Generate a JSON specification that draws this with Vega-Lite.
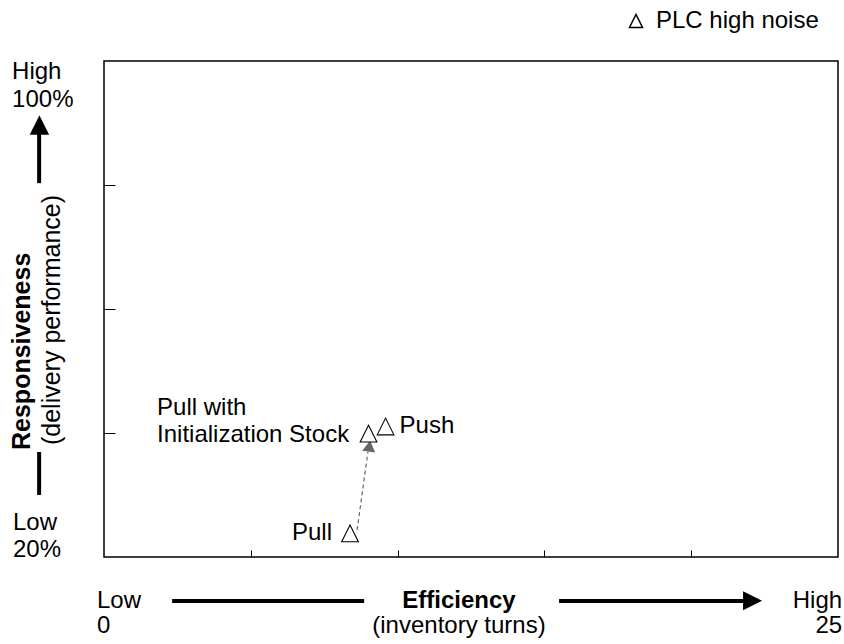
{
  "$schema": "https://vega.github.io/schema/vega-lite/v6.json",
  "width": 734,
  "height": 496,
  "autosize": {"type": "none"},
  "padding": {"left": 104, "top": 61, "right": 6, "bottom": 87},
  "background": "white",
  "config": {
    "font": "Liberation Sans",
    "view": {"stroke": "black", "strokeWidth": 1.5},
    "axis": {"grid": false, "domain": false, "labels": false, "tickColor": "black", "tickWidth": 1},
    "text": {"fontSize": 24, "color": "black", "font": "Liberation Sans"}
  },
  "datasets": {
    "pts": [
      {"x": 8.38, "y": 23.8, "series": "PLC high noise", "label": "Pull"},
      {"x": 9.01, "y": 39.9, "series": "PLC high noise", "label": ["Pull with", "Initialization Stock"]},
      {"x": 9.59, "y": 41.05, "series": "PLC high noise", "label": "Push"}
    ],
    "link": [
      {"x": 8.62, "y": 24.35},
      {"x": 8.99, "y": 36.94}
    ],
    "linkhead": [
      {"x": 9.04, "y": 37.9}
    ],
    "notes": [
      {"text": "Low", "role": "left", "x": -0.24, "y": 11.77},
      {"text": "0", "role": "left", "x": -0.24, "y": 7.74},
      {"text": "High", "role": "left", "x": -3.13, "y": 97.1},
      {"text": "100%", "role": "left", "x": -3.13, "y": 92.58},
      {"text": "Low", "role": "left", "x": -3.1, "y": 24.35},
      {"text": "20%", "role": "left", "x": -3.1, "y": 20.0},
      {"text": "High", "role": "right", "x": 25.14, "y": 11.77},
      {"text": "25", "role": "right", "x": 25.14, "y": 7.74},
      {"text": "(inventory turns)", "role": "center", "x": 12.09, "y": 7.74},
      {"text": "Efficiency", "role": "title", "x": 12.09, "y": 11.77},
      {"text": "Responsiveness", "role": "ytitle", "x": -2.79, "y": 37.26},
      {"text": "(delivery performance)", "role": "ysub", "x": -1.77, "y": 38.06}
    ],
    "arrows": [
      {"x": 2.32, "x2": 8.86, "y": 12.92, "y2": 12.92},
      {"x": 15.5, "x2": 21.9, "y": 12.92, "y2": 12.92},
      {"x": -2.21, "x2": -2.21, "y": 80.3, "y2": 88.5},
      {"x": -2.21, "x2": -2.21, "y": 30.0, "y2": 36.94}
    ],
    "heads": [
      {"x": 22.09, "y": 12.95, "dir": "right"},
      {"x": -2.2, "y": 89.68, "dir": "up"}
    ]
  },
  "encoding": {
    "x": {"field": "x", "type": "quantitative", "title": null,
          "scale": {"domain": [0, 25], "nice": false, "zero": false},
          "axis": {"values": [5, 10, 15, 20], "tickSize": -7, "labels": false, "domain": false, "title": null}},
    "y": {"field": "y", "type": "quantitative", "title": null,
          "scale": {"domain": [20, 100], "nice": false, "zero": false},
          "axis": {"values": [40, 60, 80], "tickSize": -11, "labels": false, "domain": false, "title": null}}
  },
  "layer": [
    {
      "data": {"name": "arrows"},
      "mark": {"type": "rule", "color": "black", "strokeWidth": 4},
      "encoding": {"x2": {"field": "x2"}, "y2": {"field": "y2"}}
    },
    {
      "data": {"name": "heads"},
      "transform": [{"filter": "datum.dir === 'right'"}],
      "mark": {"type": "point", "shape": "M-1,-1L1,0L-1,1Z", "size": 361, "filled": true, "color": "black", "opacity": 1}
    },
    {
      "data": {"name": "heads"},
      "transform": [{"filter": "datum.dir === 'up'"}],
      "mark": {"type": "point", "shape": "M0,-1L-1,1L1,1Z", "size": 380, "filled": true, "color": "black", "opacity": 1}
    },
    {
      "data": {"name": "link"},
      "mark": {"type": "line", "color": "#666666", "strokeWidth": 1.2, "strokeDash": [4, 3]}
    },
    {
      "data": {"name": "linkhead"},
      "mark": {"type": "point", "shape": "triangle-up", "size": 169, "filled": true, "color": "#666666", "opacity": 1, "angle": 8}
    },
    {
      "data": {"name": "pts"},
      "mark": {"type": "point", "filled": true, "fill": "white", "stroke": "black", "strokeWidth": 1.1, "size": 280, "opacity": 1},
      "encoding": {
        "shape": {"field": "series", "type": "nominal",
                  "scale": {"domain": ["PLC high noise"], "range": ["M0,-1L-1,1L1,1Z"]},
                  "legend": {"orient": "none", "legendX": 520, "legendY": -52, "title": null,
                             "labelFontSize": 24, "labelFont": "Liberation Sans", "labelColor": "black",
                             "labelLimit": 400,
                             "symbolSize": 170, "symbolType": "triangle-up",
                             "labelOffset": 8, "padding": 0,
                             "encode": {"symbols": {"update": {
                               "stroke": {"value": "black"},
                               "strokeWidth": {"value": 1},
                               "fill": {"value": "white"},
                               "opacity": {"value": 1}
                             }}}}}
      }
    },
    {
      "data": {"name": "pts"},
      "transform": [{"filter": "datum.label === 'Pull'"}],
      "mark": {"type": "text", "align": "right", "baseline": "middle", "dx": -18},
      "encoding": {"text": {"field": "label", "type": "nominal"}}
    },
    {
      "data": {"name": "pts"},
      "transform": [{"filter": "datum.label === 'Push'"}],
      "mark": {"type": "text", "align": "left", "baseline": "middle", "dx": 14},
      "encoding": {"text": {"field": "label", "type": "nominal"}}
    },
    {
      "data": {"name": "pts"},
      "transform": [{"filter": "isArray(datum.label)"}],
      "mark": {"type": "text", "align": "left", "baseline": "alphabetic", "dx": -211.5, "dy": -18.5, "lineHeight": 27},
      "encoding": {"text": {"field": "label", "type": "nominal"}}
    },
    {
      "data": {"name": "notes"},
      "transform": [{"filter": "datum.role === 'left'"}],
      "mark": {"type": "text", "align": "left", "baseline": "alphabetic"},
      "encoding": {"text": {"field": "text", "type": "nominal"}}
    },
    {
      "data": {"name": "notes"},
      "transform": [{"filter": "datum.role === 'right'"}],
      "mark": {"type": "text", "align": "right", "baseline": "alphabetic"},
      "encoding": {"text": {"field": "text", "type": "nominal"}}
    },
    {
      "data": {"name": "notes"},
      "transform": [{"filter": "datum.role === 'center'"}],
      "mark": {"type": "text", "align": "center", "baseline": "alphabetic"},
      "encoding": {"text": {"field": "text", "type": "nominal"}}
    },
    {
      "data": {"name": "notes"},
      "transform": [{"filter": "datum.role === 'title'"}],
      "mark": {"type": "text", "align": "center", "baseline": "alphabetic", "fontWeight": "bold"},
      "encoding": {"text": {"field": "text", "type": "nominal"}}
    },
    {
      "data": {"name": "notes"},
      "transform": [{"filter": "datum.role === 'ytitle'"}],
      "mark": {"type": "text", "align": "left", "baseline": "middle", "angle": 270, "fontWeight": "bold", "fontSize": 25},
      "encoding": {"text": {"field": "text", "type": "nominal"}}
    },
    {
      "data": {"name": "notes"},
      "transform": [{"filter": "datum.role === 'ysub'"}],
      "mark": {"type": "text", "align": "left", "baseline": "middle", "angle": 270, "fontSize": 25},
      "encoding": {"text": {"field": "text", "type": "nominal"}}
    }
  ]
}
